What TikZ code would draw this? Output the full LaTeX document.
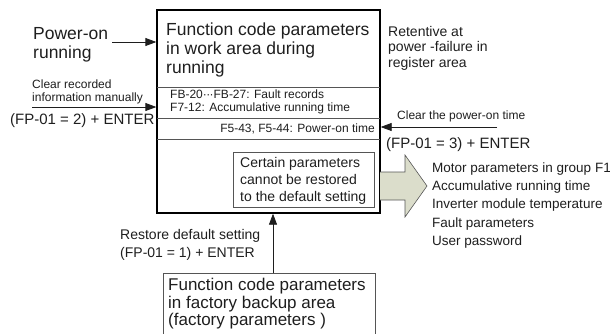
\documentclass[tikz,border=0pt]{standalone}
\usepackage{fontspec}
\setmainfont{Liberation Sans}
\usetikzlibrary{arrows.meta}
\definecolor{arrowfill}{RGB}{219,221,203}
\definecolor{txtc}{RGB}{30,30,30}
\definecolor{linec}{RGB}{85,85,85}
\newcommand{\tdots}{\textperiodcentered\kern-0.6pt\textperiodcentered\kern-0.6pt\textperiodcentered}
\begin{document}
\begin{tikzpicture}[x=1pt,y=-1pt,
  txt/.style={inner sep=0pt, anchor=north west, align=left, text=txtc},
  big/.style={font=\fontsize{17.5}{19}\selectfont},
  mid/.style={font=\fontsize{14}{16}\selectfont},
  small/.style={font=\fontsize{12}{12.5}\selectfont},
  tip/.style={-{Triangle[length=11pt,width=8pt]}, line width=0.8pt, txtc},
  divider/.style={linec, line width=0.8pt},
  ]
\useasboundingbox (0,0) rectangle (610,333);
% main box
\node[draw, line width=1.3pt, minimum width=223pt, minimum height=203pt, inner sep=0pt] (main) at (268.5,111.5) {};
\node[txt, big] (title) at (166,22.5) {Function code parameters\\in work area during\\running};
\draw[divider] (157,87) -- (380,87);
\draw[divider] (157,118) -- (380,118);
\draw[divider] (157,139) -- (380,139);
\node[txt, small] (fault) at (170,90) {FB-20\tdots FB-27: Fault records\\F7-12: Accumulative running time};
\node[txt, small, anchor=north east] (pon) at (375,124) {F5-43, F5-44: Power-on time};
% inner box
\node[draw=linec, line width=0.8pt, minimum width=141pt, minimum height=55pt, inner sep=0pt] (keep) at (303.5,179.5) {};
\node[txt, font=\fontsize{14}{17}\selectfont] (keeptxt) at (240,157) {Certain parameters\\cannot be restored\\to the default setting};
% left side
\node[txt, font=\fontsize{17.5}{19}\selectfont] (power) at (33,27) {Power-on\\running};
\coordinate (pwr) at (112,42);
\draw[tip] (pwr) -- (pwr -| main.west);
\node[txt, small] (clr) at (32,80) {Clear recorded\\information manually};
\coordinate (clrs) at (32,107);
\draw[tip] (clrs) -- (clrs -| main.west);
\node[txt, font=\fontsize{15}{17}\selectfont] (fp2) at (10,113) {(FP-01 = 2) + ENTER};
% right side
\node[txt, font=\fontsize{14}{15.5}\selectfont] (ret) at (388,26) {Retentive at\\power -failure in\\register area};
\node[txt, small] (clrp) at (397,111) {Clear the power-on time};
\coordinate (clrpe) at (497,127);
\draw[tip] (clrpe) -- (clrpe -| main.east);
\node[txt, font=\fontsize{15}{17}\selectfont] (fp3) at (386,137) {(FP-01 = 3) + ENTER};
% big arrow
\draw[linec, line width=0.6pt, fill=arrowfill] (380,172) -- (405,172) -- (405,155) -- (427,186) -- (405,217) -- (405,200) -- (380,200);
\node[txt, font=\fontsize{13.5}{18.2}\selectfont] (list) at (432,162.5) {Motor parameters in group F1\\Accumulative running time\\Inverter module temperature\\Fault parameters\\User password};
% bottom
\node[txt, mid] (restore) at (120,229) {Restore default setting\\[2pt](FP-01 = 1) + ENTER};
\draw[linec, line width=0.8pt] (163,336) -- (163,273) -- (375,273) -- (375,336);
\coordinate (fb) at (273,273);
\draw[tip] (fb) -- (fb |- main.south);
\node[txt, font=\fontsize{17}{17.5}\selectfont] (factory) at (168,278) {Function code parameters\\in factory backup area\\(factory parameters )};
\end{tikzpicture}
\end{document}
